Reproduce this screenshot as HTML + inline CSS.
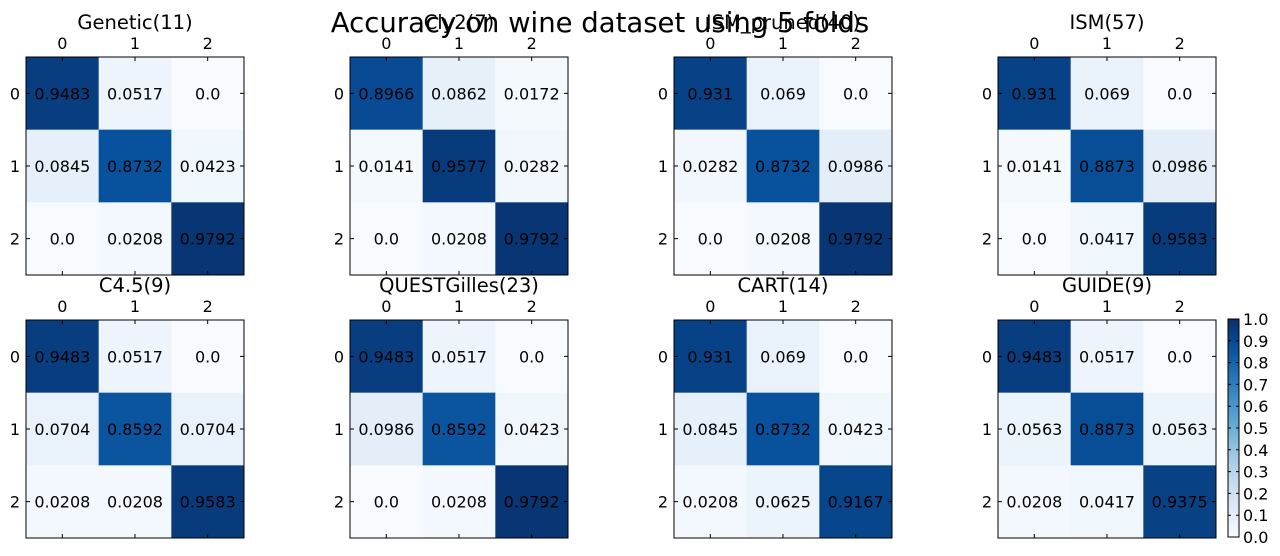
<!DOCTYPE html>
<html><head><meta charset="utf-8"><style>
body{margin:0;background:#fff;}
svg{display:block;font-family:"DejaVu Sans","Liberation Sans",sans-serif;}
</style></head><body>
<svg id="chart" width="1280" height="556" xmlns="http://www.w3.org/2000/svg">
<text x="600" y="32" font-size="27.5" text-anchor="middle">Accuracy on wine dataset using 5 folds</text>
</svg>
<script>
const titles = ["Genetic(11)","Cly2(7)","ISM_pruned(40)","ISM(57)","C4.5(9)","QUESTGilles(23)","CART(14)","GUIDE(9)"];
const labels = ["0","1","2"];
const matGenetic = [[0.9483,0.0517,0.0],[0.0845,0.8732,0.0423],[0.0,0.0208,0.9792]];
const matCly2 = [[0.8966,0.0862,0.0172],[0.0141,0.9577,0.0282],[0.0,0.0208,0.9792]];
const matIsmPruned = [[0.931,0.069,0.0],[0.0282,0.8732,0.0986],[0.0,0.0208,0.9792]];
const matIsm = [[0.931,0.069,0.0],[0.0141,0.8873,0.0986],[0.0,0.0417,0.9583]];
const matC45 = [[0.9483,0.0517,0.0],[0.0704,0.8592,0.0704],[0.0208,0.0208,0.9583]];
const matQuest = [[0.9483,0.0517,0.0],[0.0986,0.8592,0.0423],[0.0,0.0208,0.9792]];
const matCart = [[0.931,0.069,0.0],[0.0845,0.8732,0.0423],[0.0208,0.0625,0.9167]];
const matGuide = [[0.9483,0.0517,0.0],[0.0563,0.8873,0.0563],[0.0208,0.0417,0.9375]];
const mats = [matGenetic,matCly2,matIsmPruned,matIsm,matC45,matQuest,matCart,matGuide];
const cbTicks = [0,0.1,0.2,0.3,0.4,0.5,0.6,0.7,0.8,0.9,1.0];

const stops=["#f7fbff","#deebf7","#c6dbef","#9ecae1","#6baed6","#4292c6","#2171b5","#08519c","#08306b"].map(h=>[1,3,5].map(i=>parseInt(h.substr(i,2),16)));
function blues(v){v=Math.max(0,Math.min(1,v));const p=v*8,i=Math.min(7,Math.floor(p)),f=p-i;
 const c=stops[i].map((a,k)=>Math.round(a+(stops[i+1][k]-a)*f));return `rgb(${c})`;}
const svg=document.getElementById('chart');const NS="http://www.w3.org/2000/svg";
function el(t,a,p){const e=document.createElementNS(NS,t);for(const k in a)e.setAttribute(k,a[k]);(p||svg).appendChild(e);return e;}
const W=218, cell=W/3;
mats.forEach((m,pi)=>{
 const x0=26+(pi%4)*324, y0=pi<4?57:320;
 const g=el('g',{});
 
 
 const xs=j=>x0+j*cell, ys=i=>y0+i*cell;
 m.forEach((row,i)=>row.forEach((v,j)=>{
  const r=el('rect',{x:xs(j),y:ys(i),width:cell+0.5,height:cell+0.5,fill:blues(v)},g);
  
  
  const t=el('text',{x:xs(j)+cell/2,y:ys(i)+cell/2+6,'font-size':16,'text-anchor':'middle'},g);
  
  
  t.textContent=String(v).includes('.')?String(v):v.toFixed(1);
 }));
 el('rect',{x:x0,y:y0,width:W,height:W,fill:'none',stroke:'#000','stroke-width':1},g);
 labels.forEach((l,k)=>{
  const c=xs(k)+cell/2, cy=ys(k)+cell/2;
  el('path',{d:`M${c},${y0}v4M${c},${y0+W}v-4M${x0},${cy}h4M${x0+W},${cy}h-4`,stroke:'#000'},g);
  const tx=el('text',{x:c,y:y0-8,'font-size':16,'text-anchor':'middle'},g);
  
  
  tx.textContent=l;
  const ty=el('text',{x:x0-6,y:cy+6,'font-size':16,'text-anchor':'end'},g);
  
  
  ty.textContent=l;
 });
 const tt=el('text',{x:x0+W/2,y:y0-28,'font-size':19.5,'text-anchor':'middle'},g);
 
 
 tt.textContent=titles[pi];
});
const cb=el('g',{});


const cbx=1228,cby=319,cbw=11,cbh=218;
for(let k=0;k<cbh;k++){el('rect',{x:cbx,y:cby+cbh-k-1,width:cbw,height:1.2,fill:blues(k/(cbh-1))},cb);}
el('rect',{x:cbx,y:cby,width:cbw,height:cbh,fill:'none',stroke:'#000'},cb);
cbTicks.forEach(v=>{
 const y=cby+cbh-v*cbh;
 el('path',{d:`M${cbx+cbw},${y}h-3M${cbx},${y}h3`,stroke:'#000'},cb);
 const t=el('text',{x:cbx+cbw+4,y:y+6,'font-size':16},cb);
 
 
 t.textContent=v.toFixed(1);
});
</script>
</body></html>
